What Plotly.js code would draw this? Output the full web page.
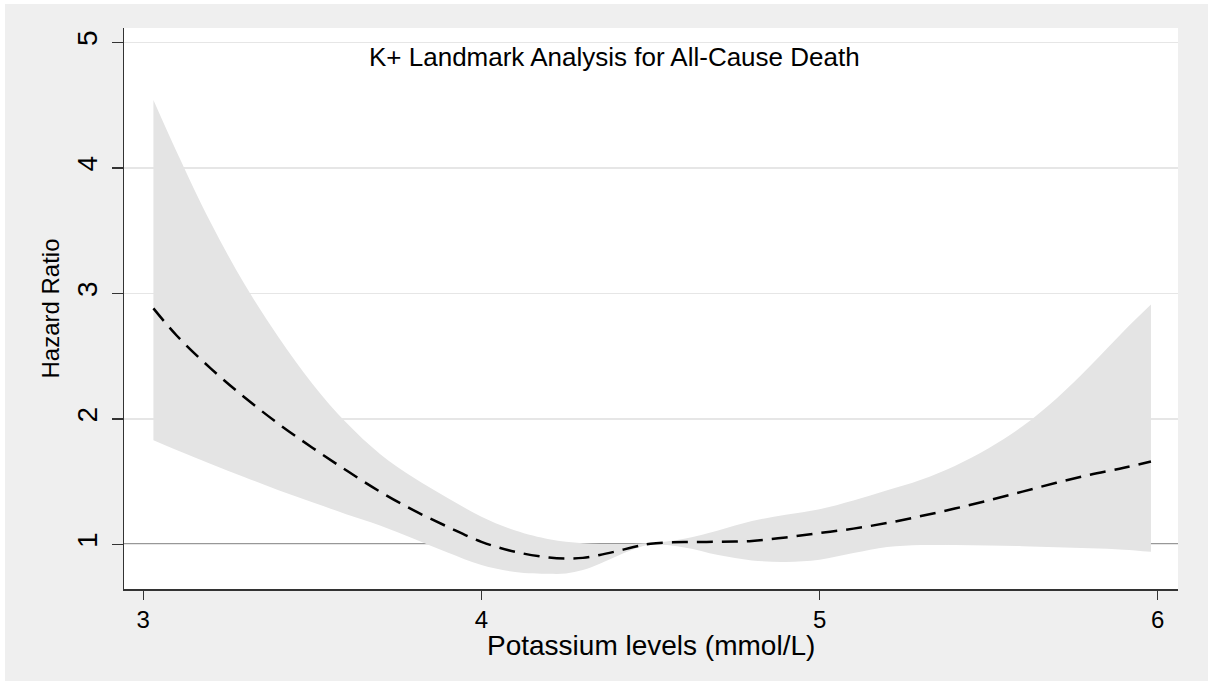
<!DOCTYPE html>
<html>
<head>
<meta charset="utf-8">
<script src="https://cdn.plot.ly/plotly-3.0.1.min.js"></script>
<style>
  html, body { margin: 0; padding: 0; background: #ffffff; }
  #chart { position: absolute; left: 5px; top: 4px; width: 1203px; height: 677px; }
</style>
</head>
<body>
<div id="chart"></div>
<script>
// Potassium levels (mmol/L)
const potassium = [3.03, 3.1, 3.2, 3.3, 3.4, 3.5, 3.6, 3.7, 3.8, 3.9, 4.0, 4.1, 4.2, 4.25, 4.3, 4.35, 4.4, 4.45, 4.5, 4.6, 4.7, 4.8, 4.9, 5.0, 5.1, 5.2, 5.3, 5.4, 5.5, 5.6, 5.7, 5.8, 5.9, 5.98];
// Hazard ratio estimate
const hazardRatio = [2.88, 2.66, 2.40, 2.17, 1.96, 1.77, 1.59, 1.42, 1.27, 1.14, 1.02, 0.94, 0.895, 0.887, 0.892, 0.915, 0.945, 0.978, 1.005, 1.018, 1.02, 1.027, 1.055, 1.09, 1.125, 1.17, 1.225, 1.285, 1.35, 1.42, 1.49, 1.555, 1.61, 1.66];
// 95% CI lower bound
const ciLower = [1.83, 1.75, 1.64, 1.535, 1.43, 1.335, 1.24, 1.15, 1.045, 0.935, 0.835, 0.78, 0.765, 0.768, 0.795, 0.845, 0.905, 0.96, 0.998, 0.975, 0.915, 0.872, 0.86, 0.878, 0.93, 0.978, 0.995, 0.995, 0.99, 0.985, 0.976, 0.968, 0.957, 0.94];
// 95% CI upper bound
const ciUpper = [4.54, 4.12, 3.56, 3.07, 2.65, 2.28, 1.97, 1.72, 1.53, 1.37, 1.22, 1.11, 1.04, 1.02, 1.008, 1.003, 1.0, 1.003, 1.01, 1.045, 1.11, 1.185, 1.235, 1.28, 1.35, 1.43, 1.515, 1.625, 1.765, 1.94, 2.16, 2.42, 2.70, 2.91];

const yTicks = [1, 2, 3, 4, 5];
const xTicks = [3, 4, 5, 6];
const referenceHR = 1;

const chartTitle = 'K+ Landmark Analysis for All-Cause Death';
const xTitle = 'Potassium levels (mmol/L)';
const yTitle = 'Hazard Ratio';

const FONT = 'Liberation Sans, Arial, Helvetica, sans-serif';

const traces = [
  {
    x: potassium, y: ciLower, type: 'scatter', mode: 'lines',
    line: { width: 0, shape: 'spline', smoothing: 1, color: 'rgba(0,0,0,0)' },
    hoverinfo: 'skip', showlegend: false
  },
  {
    x: potassium, y: ciUpper, type: 'scatter', mode: 'lines',
    fill: 'tonexty', fillcolor: '#e4e4e4',
    line: { width: 0, shape: 'spline', smoothing: 1, color: 'rgba(0,0,0,0)' },
    hoverinfo: 'skip', showlegend: false
  },
  {
    x: potassium, y: hazardRatio, type: 'scatter', mode: 'lines',
    line: { color: '#000000', width: 2.5, dash: '16px,9px', shape: 'spline', smoothing: 1 },
    showlegend: false
  }
];

const layout = {
  width: 1203, height: 677,
  paper_bgcolor: '#efefef',
  plot_bgcolor: '#ffffff',
  margin: { l: 119, r: 30, t: 24, b: 92, pad: 0 },
  showlegend: false,
  font: { family: FONT, color: '#000000' },
  xaxis: {
    range: [2.943, 6.06],
    tickvals: xTicks, ticktext: xTicks.map(String),
    ticks: 'outside', ticklen: 9, tickwidth: 1.5, tickcolor: '#333333',
    showline: true, linecolor: '#333333', linewidth: 1.5,
    showgrid: false, zeroline: false,
    tickfont: { family: FONT, size: 24, color: '#000000' },
    automargin: false
  },
  yaxis: {
    range: [0.644, 5.114],
    tickvals: yTicks, ticktext: yTicks.map(String),
    tickangle: -90,
    ticks: 'outside', ticklen: 11, tickwidth: 1.5, tickcolor: '#333333',
    ticklabelstandoff: 3,
    showline: true, linecolor: '#333333', linewidth: 1.5,
    showgrid: true, gridcolor: '#e6e6e6', gridwidth: 1.5,
    zeroline: false,
    tickfont: { family: FONT, size: 28, color: '#000000' },
    title: { text: yTitle, font: { family: FONT, size: 24, color: '#000000' }, standoff: 6 },
    automargin: false
  },
  shapes: [
    {
      type: 'line', xref: 'paper', yref: 'y', layer: 'below',
      x0: 0, x1: 1, y0: referenceHR, y1: referenceHR,
      line: { color: '#333333', width: 1.5 }
    }
  ],
  annotations: [
    {
      text: chartTitle, xref: 'paper', yref: 'paper',
      x: 0.465, y: 0.949, xanchor: 'center', yanchor: 'middle',
      showarrow: false, font: { family: FONT, size: 26, color: '#000000' }
    },
    {
      text: xTitle, xref: 'paper', yref: 'paper',
      x: 0.5, y: -0.1, xanchor: 'center', yanchor: 'middle',
      showarrow: false, font: { family: FONT, size: 28, color: '#000000' }
    }
  ]
};

Plotly.newPlot('chart', traces, layout, { displayModeBar: false, staticPlot: true });
</script>
</body>
</html>
